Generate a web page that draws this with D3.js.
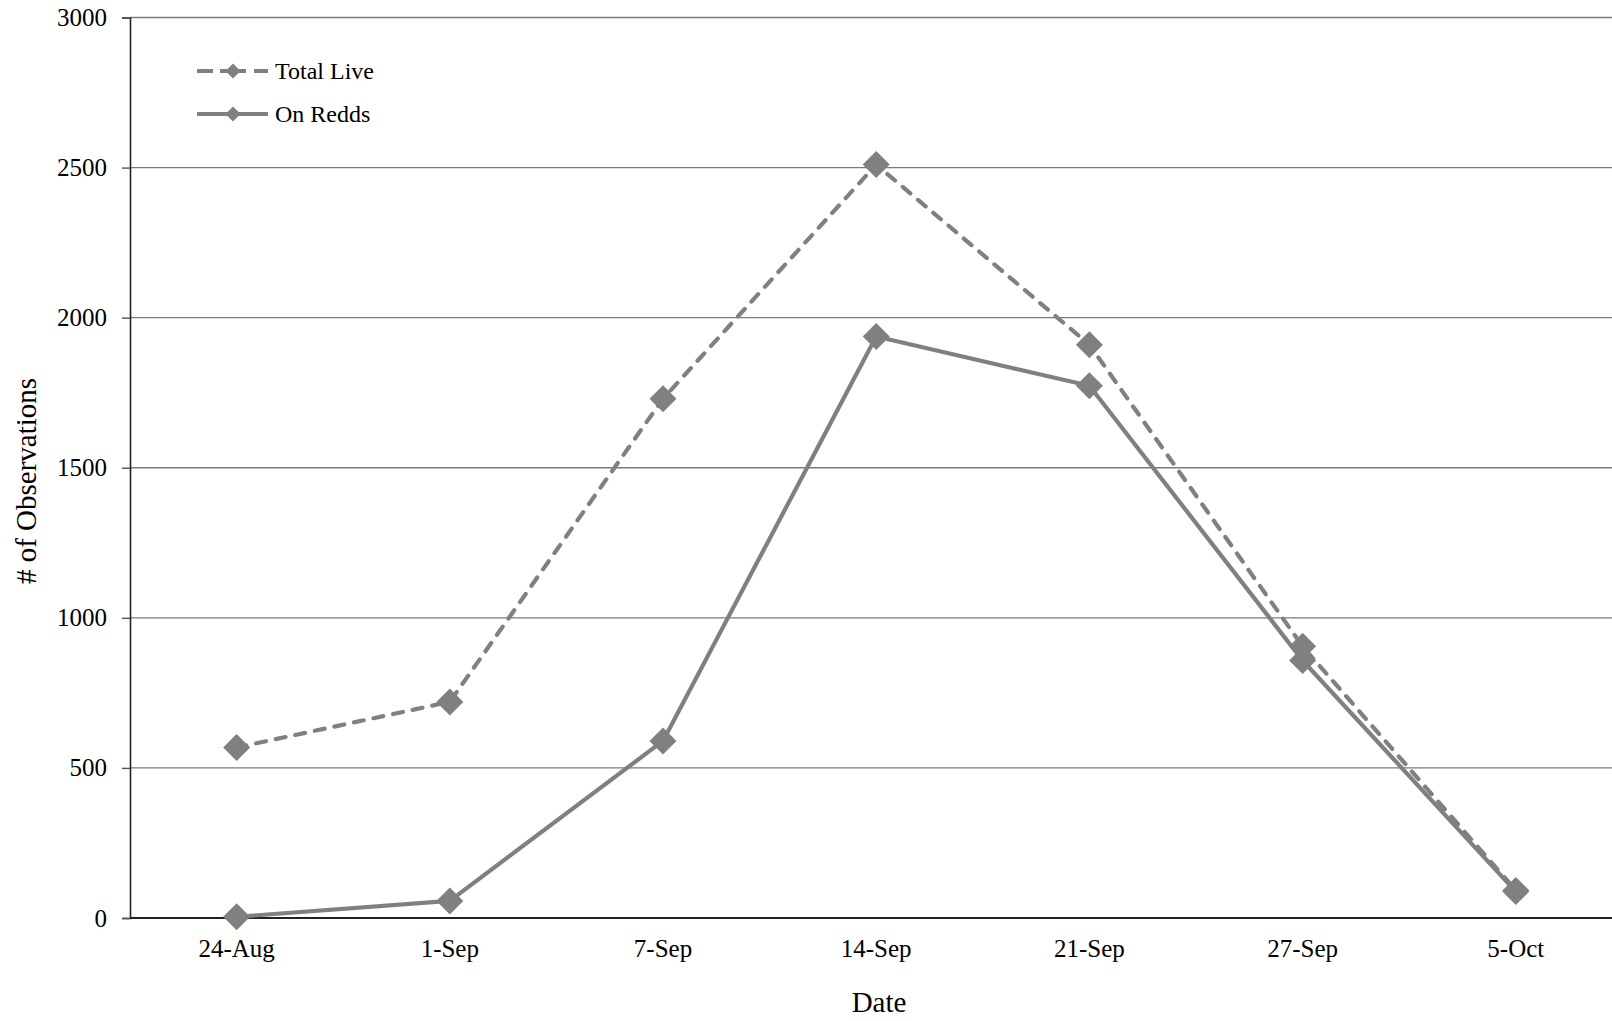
<!DOCTYPE html>
<html>
<head>
<meta charset="utf-8">
<script src="https://cdn.jsdelivr.net/npm/d3@7"></script>
<style>
  html, body { margin: 0; padding: 0; background: #fff; }
  svg { display: block; }
  text { font-family: "Liberation Serif", "Times New Roman", serif; fill: #000; }
</style>
</head>
<body>
<svg id="chart" width="1612" height="1021"></svg>
<script>
const categories = ["24-Aug", "1-Sep", "7-Sep", "14-Sep", "21-Sep", "27-Sep", "5-Oct"];
const totalLive = [568, 720, 1730, 2510, 1910, 905, 92];
const onRedds = [4, 57, 590, 1937, 1773, 858, 88];
const yTicks = [0, 500, 1000, 1500, 2000, 2500, 3000];
const seriesNames = ["Total Live", "On Redds"];

(function () {
const svg = d3.select("#chart");
const W = 1612;
const plotLeft = 130, plotTop = 17.5, plotBottom = 918;
const step = 213.2;
const plotRight = plotLeft + step * categories.length;

const x = d3.scaleBand().domain(categories).range([plotLeft, plotRight]).paddingInner(0).paddingOuter(0);
const y = d3.scaleLinear().domain([0, 3000]).range([plotBottom, plotTop]);
const cx = d => x(d) + x.bandwidth() / 2;

const gray = "#808080";

// gridlines
svg.append("g").selectAll("line").data(yTicks.filter(t => t > 0)).join("line")
  .attr("x1", plotLeft).attr("x2", W + 20)
  .attr("y1", d => y(d)).attr("y2", d => y(d))
  .attr("stroke", "#7a7a7a").attr("stroke-width", 1.4);

// y axis
const yAxis = d3.axisLeft(y).tickValues(yTicks).tickSize(8).tickPadding(15).tickFormat(d3.format("d"));
const gy = svg.append("g").attr("transform", `translate(${plotLeft},0)`).call(yAxis);
gy.select(".domain").attr("stroke", "#222").attr("stroke-width", 1.6);
gy.selectAll(".tick line").attr("stroke", "#555").attr("stroke-width", 1.4);
gy.selectAll(".tick text").attr("font-size", 25).attr("font-family", "Liberation Serif").attr("fill", "#000");

// x axis
const xAxis = d3.axisBottom(x).tickSize(0).tickPadding(21);
const gx = svg.append("g").attr("transform", `translate(0,${plotBottom})`).call(xAxis);
gx.select(".domain").remove();
gx.selectAll(".tick text").attr("font-size", 25).attr("font-family", "Liberation Serif").attr("fill", "#000");
svg.append("line").attr("x1", plotLeft).attr("x2", W + 20).attr("y1", plotBottom).attr("y2", plotBottom)
  .attr("stroke", "#222").attr("stroke-width", 1.8);

// axis titles
svg.append("text").attr("x", 879).attr("y", 1012).attr("text-anchor", "middle")
  .attr("font-size", 29).text("Date");
svg.append("text").attr("transform", "translate(36,481) rotate(-90)").attr("text-anchor", "middle")
  .attr("font-size", 29).text("# of Observations");

const diamond = h => `M0,${-h}L${h},0L0,${h}L${-h},0Z`;
const line = d3.line().x((d, i) => cx(categories[i])).y(d => y(d));

const series = [
  { name: seriesNames[0], values: totalLive, dash: "10,10" },
  { name: seriesNames[1], values: onRedds, dash: null }
];

series.forEach(s => {
  const g = svg.append("g");
  g.append("path").datum(s.values).attr("d", line)
    .attr("fill", "none").attr("stroke", gray).attr("stroke-width", 4.2)
    .attr("stroke-linecap", "round").attr("stroke-linejoin", "round")
    .attr("stroke-dasharray", s.dash);
  g.selectAll("path.m").data(s.values).join("path").attr("class", "m")
    .attr("d", diamond(13.5))
    .attr("transform", (d, i) => `translate(${cx(categories[i])},${y(d)})`)
    .attr("fill", gray);
});

// legend
const leg = svg.append("g");
series.forEach((s, i) => {
  const ly = 71 + i * 43;
  leg.append("line").attr("x1", 197).attr("x2", 268).attr("y1", ly).attr("y2", ly)
    .attr("stroke", gray).attr("stroke-width", 4.2)
    .attr("stroke-dasharray", s.dash ? "16,7,26,8,14" : null);
  leg.append("path").attr("d", diamond(7.5)).attr("transform", `translate(233,${ly})`).attr("fill", gray);
  leg.append("text").attr("x", 275).attr("y", ly + 8).attr("font-size", 24).text(s.name);
});
})();
</script>
</body>
</html>
